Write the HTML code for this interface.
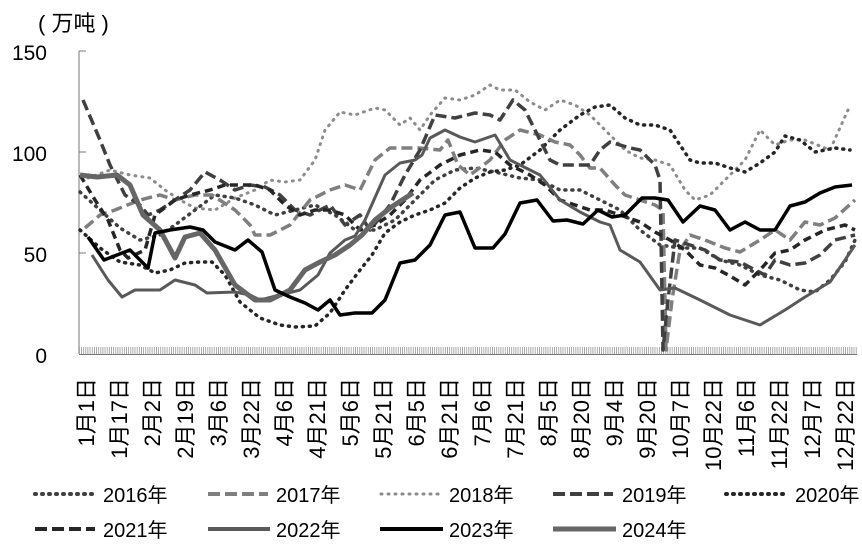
<!DOCTYPE html>
<html><head><meta charset="utf-8"><style>
html,body{margin:0;padding:0;background:#fff;}
svg{display:block;}
text{font-family:"Liberation Sans","Noto Sans CJK SC",sans-serif;fill:#000;}
</style></head><body>
<svg width="862" height="548" viewBox="0 0 862 548" xmlns="http://www.w3.org/2000/svg">
<defs>
<pattern id="tk" x="79" y="0" width="2.14" height="10" patternUnits="userSpaceOnUse">
<rect x="0" y="0" width="0.7" height="10" fill="#888"/>
</pattern>
</defs>
<text x="38" y="31" font-size="22">( 万吨 )</text>
<g font-size="21" text-anchor="end">
<text x="47" y="60">150</text>
<text x="47" y="161">100</text>
<text x="47" y="262">50</text>
<text x="47" y="363">0</text>
</g>
<line x1="79" y1="51" x2="79" y2="354" stroke="#777" stroke-width="1"/>
<g stroke="#777" stroke-width="1">
<line x1="79" y1="51" x2="86" y2="51"/><line x1="79" y1="152" x2="86" y2="152"/><line x1="79" y1="253" x2="86" y2="253"/>
</g>
<rect x="79" y="347" width="778" height="7" fill="url(#tk)"/>
<line x1="79" y1="354.5" x2="857" y2="354.5" stroke="#777" stroke-width="1"/>
<g fill="none" stroke-linejoin="round">
<polyline stroke="#8c8c8c" stroke-width="3" stroke-dasharray="1 6" stroke-linecap="round" points="88,178 110,170 130,175 150,178 165,190 180,200 195,208 215,210 235,198 255,190 270,180 285,182 300,180 315,160 325,130 340,112 355,115 375,108 385,110 400,125 410,118 420,130 430,115 445,98 460,100 475,95 490,85 500,90 515,90 530,102 545,110 560,100 575,105 590,115 600,125 610,135 625,150 640,158 655,160 670,165 685,190 695,200 710,195 725,180 745,160 760,130 775,145 790,140 805,140 830,150 848,110"/>
<polyline stroke="#404040" stroke-width="3.5" stroke-dasharray="1 6" stroke-linecap="round" points="80,192 100,210 120,228 140,240 160,235 175,225 195,210 215,195 235,198 255,205 275,215 295,210 315,205 335,215 355,230 375,230 395,220 415,200 435,180 455,170 475,168 495,172 520,178 540,180 560,190 580,190 600,200 620,210 640,230 660,245 680,248 700,248 720,260 740,265 760,275 780,280 800,290 815,292 830,280 845,262 855,240"/>
<polyline stroke="#262626" stroke-width="3.5" stroke-dasharray="1 6" stroke-linecap="round" points="80,230 100,248 120,262 140,265 155,273 170,270 185,263 200,262 212,262 225,275 240,302 260,318 280,325 295,327 315,326 330,313 345,290 360,270 372,255 385,233 400,222 415,215 430,210 445,203 460,188 475,178 490,172 505,170 520,165 540,150 560,130 580,115 595,107 610,105 625,118 640,125 655,125 670,130 680,145 690,160 700,163 715,163 730,168 745,172 760,163 775,152 785,136 800,140 815,152 835,148 850,150"/>
<polyline stroke="#7f7f7f" stroke-width="3.5" stroke-dasharray="11 5" points="85,228 100,215 115,210 140,200 160,195 175,200 195,195 212,195 235,210 250,225 255,235 270,235 290,225 310,200 330,190 345,185 360,190 375,160 390,148 420,148 440,150 448,140 458,165 470,175 490,160 505,140 520,130 540,135 555,142 570,145 580,155 590,168 600,168 615,185 625,195 640,200 655,205 663,210 666,350 672,300 680,250 690,235 705,240 725,248 740,252 760,240 775,230 790,240 805,222 820,225 835,218 855,200"/>
<polyline stroke="#404040" stroke-width="3.5" stroke-dasharray="11 5" points="83,100 100,140 110,165 125,195 140,205 148,215 160,210 175,200 190,190 205,172 220,180 235,190 250,185 265,187 280,195 295,210 310,215 330,205 345,225 360,215 370,230 390,205 405,175 420,150 435,115 455,118 475,113 490,115 500,120 513,100 525,110 540,140 550,160 560,165 575,165 590,165 600,150 610,142 630,148 640,150 655,165 660,180 663,350 668,300 675,240 690,245 705,250 720,260 740,262 755,270 765,275 775,260 790,265 805,263 820,255 835,240 855,235"/>
<polyline stroke="#262626" stroke-width="3.5" stroke-dasharray="8 5" points="80,175 95,200 108,220 120,250 128,258 145,250 155,215 175,200 190,195 210,190 225,185 240,185 255,185 270,190 285,205 300,215 315,210 330,210 345,215 360,230 375,225 390,215 405,200 420,180 440,165 460,155 480,150 495,152 510,165 530,175 545,185 560,200 575,205 590,210 605,210 620,215 640,222 655,232 670,240 685,250 700,265 715,268 730,276 745,285 760,270 775,253 790,250 805,240 825,230 845,225 855,230"/>
<polyline stroke="#595959" stroke-width="3" points="92,255 108,280 122,297 135,290 160,290 175,280 195,285 207,293 235,292 250,295 260,300 280,295 300,290 318,275 330,253 345,240 355,236 365,220 385,175 400,163 415,160 422,155 430,138 445,130 460,137 475,142 495,135 510,160 540,175 560,200 580,212 600,222 610,225 620,250 640,262 660,290 675,288 700,300 730,315 760,325 785,310 805,297 830,282 845,260 855,245"/>
<polyline stroke="#666" stroke-width="5" points="80,175 97,177 117,175 130,185 143,215 160,230 175,258 185,237 200,233 215,250 235,285 255,300 270,300 290,290 305,270 320,262 335,255 350,245 362,235 375,220 390,208 413,193"/>
<polyline stroke="#000" stroke-width="3.5" points="88,237 104,260 130,250 148,268 155,233 170,230 190,227 203,230 215,242 235,250 248,240 262,252 275,290 290,297 305,303 318,310 330,300 340,315 355,313 372,313 385,300 400,263 415,260 430,245 445,215 460,212 475,248 493,248 505,234 520,203 537,200 553,221 567,220 583,224 598,210 612,217 625,215 642,198 655,198 668,200 683,222 700,206 715,210 730,230 745,222 760,230 775,230 790,206 805,202 820,193 835,187 852,185"/>
</g>
<g font-size="22">
<text transform="translate(94,378) rotate(-90)" text-anchor="end">1月1日</text>
<text transform="translate(127,378) rotate(-90)" text-anchor="end">1月17日</text>
<text transform="translate(160,378) rotate(-90)" text-anchor="end">2月2日</text>
<text transform="translate(193,378) rotate(-90)" text-anchor="end">2月19日</text>
<text transform="translate(226,378) rotate(-90)" text-anchor="end">3月6日</text>
<text transform="translate(259,378) rotate(-90)" text-anchor="end">3月22日</text>
<text transform="translate(292,378) rotate(-90)" text-anchor="end">4月6日</text>
<text transform="translate(325,378) rotate(-90)" text-anchor="end">4月21日</text>
<text transform="translate(358,378) rotate(-90)" text-anchor="end">5月6日</text>
<text transform="translate(391,378) rotate(-90)" text-anchor="end">5月21日</text>
<text transform="translate(424,378) rotate(-90)" text-anchor="end">6月5日</text>
<text transform="translate(457,378) rotate(-90)" text-anchor="end">6月21日</text>
<text transform="translate(490,378) rotate(-90)" text-anchor="end">7月6日</text>
<text transform="translate(523,378) rotate(-90)" text-anchor="end">7月21日</text>
<text transform="translate(556,378) rotate(-90)" text-anchor="end">8月5日</text>
<text transform="translate(589,378) rotate(-90)" text-anchor="end">8月20日</text>
<text transform="translate(622,378) rotate(-90)" text-anchor="end">9月4日</text>
<text transform="translate(655,378) rotate(-90)" text-anchor="end">9月20日</text>
<text transform="translate(688,378) rotate(-90)" text-anchor="end">10月7日</text>
<text transform="translate(721,378) rotate(-90)" text-anchor="end">10月22日</text>
<text transform="translate(754,378) rotate(-90)" text-anchor="end">11月6日</text>
<text transform="translate(787,378) rotate(-90)" text-anchor="end">11月22日</text>
<text transform="translate(820,378) rotate(-90)" text-anchor="end">12月7日</text>
<text transform="translate(853,378) rotate(-90)" text-anchor="end">12月22日</text>
</g>
<g fill="none">
<line x1="35" y1="494" x2="97" y2="494" stroke="#404040" stroke-width="4" stroke-dasharray="1 6" stroke-linecap="round"/>
<line x1="208" y1="494" x2="268" y2="494" stroke="#7f7f7f" stroke-width="4" stroke-dasharray="12 5"/>
<line x1="381" y1="494" x2="441" y2="494" stroke="#8c8c8c" stroke-width="3" stroke-dasharray="1 6" stroke-linecap="round"/>
<line x1="553" y1="494" x2="613" y2="494" stroke="#404040" stroke-width="4" stroke-dasharray="12 5"/>
<line x1="726" y1="494" x2="788" y2="494" stroke="#262626" stroke-width="4" stroke-dasharray="1 6" stroke-linecap="round"/>
<line x1="35" y1="529" x2="95" y2="529" stroke="#262626" stroke-width="4" stroke-dasharray="12 5"/>
<line x1="208" y1="529" x2="270" y2="529" stroke="#595959" stroke-width="4"/>
<line x1="380" y1="529" x2="443" y2="529" stroke="#000" stroke-width="4"/>
<line x1="553" y1="529" x2="616" y2="529" stroke="#666" stroke-width="5"/>
</g>
<g font-size="20">
<text x="103" y="502">2016年</text>
<text x="276" y="502">2017年</text>
<text x="449" y="502">2018年</text>
<text x="622" y="502">2019年</text>
<text x="795" y="502">2020年</text>
<text x="103" y="537">2021年</text>
<text x="276" y="537">2022年</text>
<text x="449" y="537">2023年</text>
<text x="622" y="537">2024年</text>
</g>
</svg>
</body></html>
